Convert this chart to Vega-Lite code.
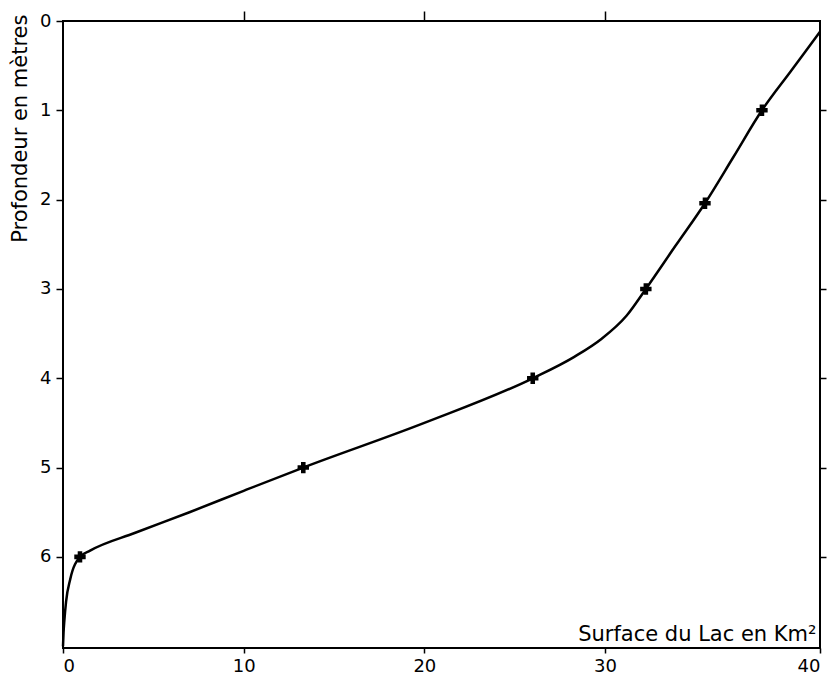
{
  "$schema": "https://vega.github.io/schema/vega-lite/v6.json",
  "width": 757,
  "height": 627,
  "autosize": "none",
  "padding": {"left": 63, "top": 21, "right": 11, "bottom": 33},
  "background": "white",
  "config": {
    "view": {"stroke": "black", "strokeWidth": 2},
    "font": "DejaVu Sans",
    "axis": {
      "grid": false,
      "domain": false,
      "tickColor": "black",
      "tickWidth": 1.5,
      "labelColor": "black",
      "titleColor": "black",
      "labelFont": "DejaVu Sans",
      "titleFont": "DejaVu Sans",
      "titleFontWeight": "normal",
      "labelFontSize": 18,
      "titleFontSize": 21
    }
  },
  "datasets": {
    "curve": [
      {"surface": 0.0, "depth": 7.0},
      {"surface": 0.03, "depth": 6.85},
      {"surface": 0.08, "depth": 6.7},
      {"surface": 0.17, "depth": 6.5},
      {"surface": 0.4, "depth": 6.25},
      {"surface": 0.94, "depth": 6.0},
      {"surface": 1.5, "depth": 5.93},
      {"surface": 4.0, "depth": 5.73},
      {"surface": 7.0, "depth": 5.5},
      {"surface": 10.0, "depth": 5.26},
      {"surface": 13.3, "depth": 5.0},
      {"surface": 20.0, "depth": 4.5},
      {"surface": 26.0, "depth": 4.0},
      {"surface": 28.3, "depth": 3.76},
      {"surface": 29.8, "depth": 3.56},
      {"surface": 31.0, "depth": 3.3},
      {"surface": 31.9, "depth": 3.0},
      {"surface": 33.27, "depth": 2.52},
      {"surface": 34.65, "depth": 2.04},
      {"surface": 35.98, "depth": 1.52},
      {"surface": 37.3, "depth": 1.0},
      {"surface": 38.65, "depth": 0.56},
      {"surface": 40.0, "depth": 0.12}
    ],
    "points": [
      {"surface": 0.94, "depth": 6.0},
      {"surface": 13.3, "depth": 5.0},
      {"surface": 26.0, "depth": 4.0},
      {"surface": 31.9, "depth": 3.0},
      {"surface": 34.65, "depth": 2.04},
      {"surface": 37.3, "depth": 1.0}
    ]
  },
  "layer": [
    {
      "data": {"name": "curve"},
      "mark": {"type": "line", "interpolate": "monotone", "color": "black", "strokeWidth": 2.5},
      "encoding": {
        "x": {
          "field": "surface", "type": "quantitative",
          "scale": {"domain": [0, 30, 40], "range": [0, 542, 757], "nice": false, "zero": false},
          "axis": {
            "orient": "bottom", "values": [0, 10, 20, 30, 40], "tickSize": 5, "labelPadding": 4,
            "title": "Surface du Lac en Km²", "titleAnchor": "end", "titleAlign": "right",
            "titleX": 753, "titleY": -8, "titleBaseline": "alphabetic", "titleFontSize": 21
          }
        },
        "y": {
          "field": "depth", "type": "quantitative",
          "scale": {"domain": [0, 7.02], "range": [0, 627], "nice": false, "zero": false},
          "axis": {
            "orient": "left", "values": [0, 1, 2, 3, 4, 5, 6], "tickSize": 7, "labelPadding": 5,
            "title": "Profondeur en mètres", "titleAngle": -90, "titleAlign": "right",
            "titleX": -43, "titleY": -7, "titleBaseline": "middle"
          }
        }
      }
    },
    {
      "data": {"name": "points"},
      "mark": {"type": "point", "shape": "cross", "filled": true, "color": "black", "size": 130, "opacity": 1},
      "encoding": {
        "x": {
          "field": "surface", "type": "quantitative",
          "axis": {"orient": "top", "values": [10, 20, 30], "tickSize": 10, "labels": false, "title": null}
        },
        "y": {
          "field": "depth", "type": "quantitative",
          "axis": {"orient": "right", "values": [1, 2, 3, 4, 5, 6], "tickSize": 6, "labels": false, "title": null}
        }
      }
    }
  ],
  "resolve": {"axis": {"x": "independent", "y": "independent"}}
}
